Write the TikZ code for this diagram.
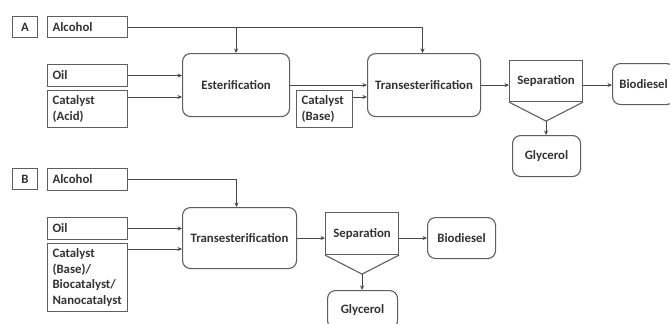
\documentclass[tikz,border=0pt]{standalone}
\usepackage{fontspec}
\setmainfont{Carlito}
\usetikzlibrary{arrows.meta,calc}
\definecolor{bordc}{HTML}{5E5E5E}
\definecolor{txtc}{HTML}{333333}
\definecolor{linec}{HTML}{474747}
\begin{document}
\begin{tikzpicture}[x=1pt,y=-1pt,
  every node/.style={font=\fontsize{12.8}{15.5}\selectfont\bfseries, text=txtc},
  inbox/.style={draw=bordc, line width=1.1pt, anchor=north west, align=left, inner xsep=5pt, inner ysep=0pt},
  lbox/.style={draw=bordc, line width=1.1pt, anchor=north west, minimum width=25pt, minimum height=21pt, inner sep=0pt},
  proc/.style={draw=bordc, line width=1.1pt, rounded corners=8pt, anchor=north west, align=center, inner sep=0pt},
  sepbox/.style={draw=bordc, line width=1.1pt, anchor=north west, inner sep=0pt},
  sepline/.style={draw=bordc, line width=1.1pt, line join=miter},
  conn/.style={draw=linec, line width=0.8pt, -{Stealth[length=4.5pt,width=4pt]}},
  plain/.style={draw=linec, line width=0.8pt}]
\useasboundingbox[fill=white] (0,0) rectangle (670,324);

% ---------- Panel A ----------
\node[lbox] (labA) at (12,16) {A};
\node[inbox, text width=70pt, minimum height=21pt] (alcA) at (47,16) {Alcohol};
\node[inbox, text width=70pt, minimum height=22pt] (oilA) at (47,64) {Oil};
\node[inbox, text width=70pt, minimum height=37pt] (catA) at (47,90) {Catalyst\\(Acid)};
\node[proc, minimum width=107pt, minimum height=63pt] (esterA) at (182,53) {Esterification};
\node[inbox, text width=46pt, minimum height=37pt] (catbA) at (296,90) {Catalyst\\(Base)};
\node[proc, minimum width=113pt, minimum height=63pt] (transA) at (367,53) {Transesterification};
\node[sepbox, minimum width=73pt, minimum height=41pt] (sepA) at (509,60) {Separation};
\coordinate (apxA) at ($(sepA.south)+(0,19)$);
\node[proc, minimum width=68pt, minimum height=41pt] (glyA) at (512,135) {Glycerol};
\node[proc, minimum width=62pt, minimum height=41pt] (bioA) at (612,63) {Biodiesel};
\coordinate (cAcid) at ($(catA.north east)+(0,7)$);
\coordinate (cBase) at ($(catbA.north east)+(0,7)$);
\coordinate (dTr) at ($(transA.north)+(-1.5,0)$);

\draw[sepline] (sepA.south west) -- (apxA) -- (sepA.south east);
\draw[conn] (alcA.east) -| (dTr);
\draw[conn] (alcA.east -| esterA.north) -- (esterA.north);
\draw[conn] (oilA.east) -- (oilA.east -| esterA.west);
\draw[conn] (cAcid) -- (cAcid -| esterA.west);
\draw[conn] (esterA.east) -- (esterA.east -| transA.west);
\draw[conn] (cBase) -- (cBase -| transA.west);
\draw[conn] (transA.east) -- (transA.east -| sepA.west);
\draw[conn] (transA.east -| sepA.east) -- (transA.east -| bioA.west);
\draw[conn] (apxA) -- (apxA |- glyA.north);

% ---------- Panel B ----------
\node[lbox] (labB) at (12,168) {B};
\node[inbox, text width=70pt, minimum height=22pt] (alcB) at (47,168) {Alcohol};
\node[inbox, text width=70pt, minimum height=22pt] (oilB) at (47,217) {Oil};
\node[inbox, text width=70pt, minimum height=68pt] (catB) at (47,243) {Catalyst\\(Base)/\\Biocatalyst/\\Nanocatalyst};
\node[proc, minimum width=114pt, minimum height=61pt] (transB) at (182,207) {Transesterification};
\node[sepbox, minimum width=73pt, minimum height=42pt] (sepB) at (325,212) {Separation};
\coordinate (apxB) at ($(sepB.south)+(0,19)$);
\node[proc, minimum width=70pt, minimum height=38pt] (glyB) at (327,290) {Glycerol};
\node[proc, minimum width=68pt, minimum height=41pt] (bioB) at (427,217) {Biodiesel};
\coordinate (cCat) at ($(catB.north east)+(0,6)$);
\coordinate (dTrB) at ($(transB.north)+(-3,0)$);

\draw[sepline] (sepB.south west) -- (apxB) -- (sepB.south east);
\draw[conn] (alcB.east) -| (dTrB);
\draw[conn] (oilB.east) -- (oilB.east -| transB.west);
\draw[conn] (cCat) -- (cCat -| transB.west);
\draw[conn] (transB.east) -- (transB.east -| sepB.west);
\draw[conn] (transB.east -| sepB.east) -- (bioB.west);
\draw[conn] (apxB) -- (apxB |- glyB.north);
\end{tikzpicture}
\end{document}
